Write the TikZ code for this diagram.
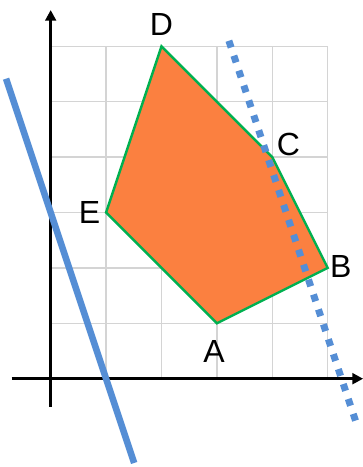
\documentclass[tikz,border=0pt]{standalone}
\usepackage{fontspec}
\setmainfont{Liberation Sans}
\usetikzlibrary{arrows.meta}
\definecolor{cutblue}{HTML}{558ED5}
\definecolor{regionorange}{HTML}{FB8040}
\definecolor{edgegreen}{HTML}{00B050}
\definecolor{gridgray}{HTML}{D4D4D4}
\tikzset{
  gridline/.style={draw=gridgray, line width=1.1pt},
  axis/.style={-{Triangle[length=8pt,width=8pt]}, line width=2pt},
  region/.style={fill=regionorange, draw=edgegreen, line width=1.8pt},
  cutline/.style={draw=cutblue, line width=4.9pt},
  cutdots/.style={draw=cutblue, line width=5.2pt, dash pattern=on 5.3pt off 6.5pt},
  vlabel/.style={font=\fontsize{24}{28}\selectfont, inner sep=0pt},
}

\begin{document}
\begin{tikzpicture}[x=41.55pt, y=41.55pt]
    \useasboundingbox (-0.915,-1.594) rectangle (5.637,6.836);

    % grid
    \foreach \i in {1,...,5}
      \draw[gridline] (\i,0) -- (\i,6);
    \foreach \j in {1,...,6}
      \draw[gridline] (0,\j) -- (5,\j);

    % feasible region
    \coordinate (A) at (3,1);
    \coordinate (B) at (5,2);
    \coordinate (C) at (4,4);
    \coordinate (D) at (2,6);
    \coordinate (E) at (1,3);
    \draw[region] (A) -- (B) -- (C) -- (D) -- (E) -- cycle;

    \node[vlabel] (lblA) at (2.95,0.495) {A};
    \node[vlabel] (lblB) at (5.236,2.02) {B};
    \node[vlabel] (lblC) at (4.29,4.22) {C};
    \node[vlabel] (lblD) at (2.0,6.385) {D};
    \node[vlabel] (lblE) at (0.70,3.0) {E};

    % axes
    \coordinate (xfrom) at (-0.704,0);
    \coordinate (xto) at (5.64,0);
    \coordinate (yfrom) at (0,-0.505);
    \coordinate (yto) at (0,6.655);
    \draw[axis] (xfrom) -- (xto);
    \draw[axis] (yfrom) -- (yto);

    % level lines
    \coordinate (lowtop) at (-0.805,5.415);
    \coordinate (lowbot) at (1.507,-1.521);
    \coordinate (hightop) at (3.217,6.1);
    \coordinate (highbot) at (5.54,-0.87);
    \draw[cutline] (lowtop) -- (lowbot);
    \draw[cutdots] (hightop) -- (highbot);
\end{tikzpicture}
\end{document}
